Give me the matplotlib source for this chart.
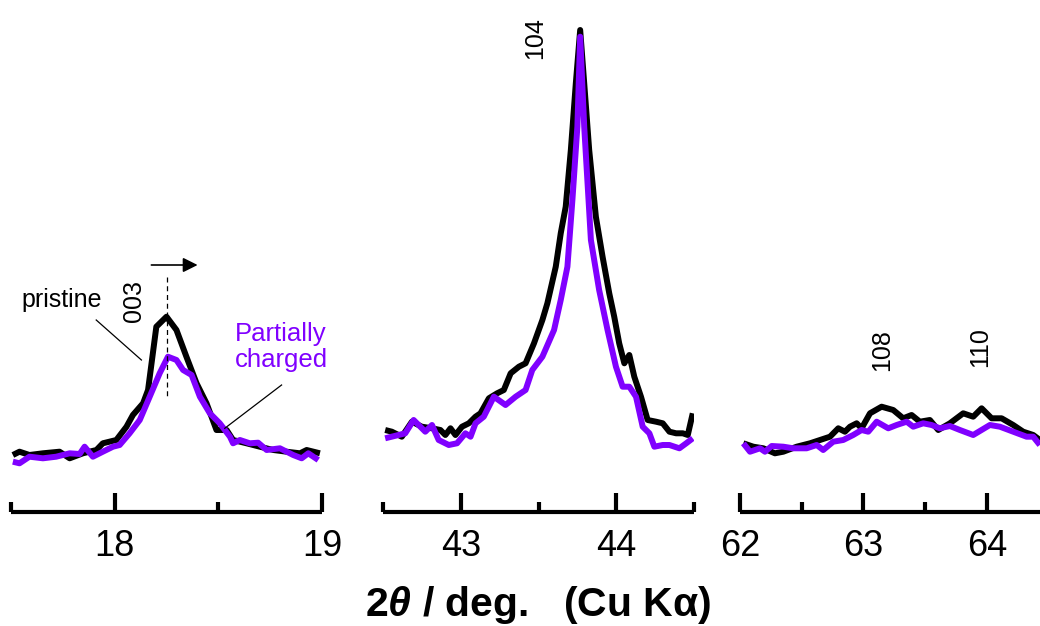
import matplotlib
matplotlib.use("Agg")
import matplotlib.pyplot as plt
from matplotlib.ticker import FixedLocator, NullFormatter

plt.rcParams['font.family'] = ['Liberation Sans', 'DejaVu Sans']
plt.rcParams['mathtext.fontset'] = 'custom'
plt.rcParams['mathtext.bf'] = 'Liberation Sans:bold'
plt.rcParams['mathtext.bfit'] = 'Liberation Sans:bold:italic'
plt.rcParams['mathtext.rm'] = 'Liberation Sans'

BLACK = '#000000'
PURPLE = '#8000ff'

# ---------------- data (2theta in degrees, intensity in a.u.) ----------------
# 003 region
x003_pristine = [17.509, 17.541, 17.589, 17.654, 17.734, 17.783, 17.847, 17.912, 17.943, 18.008,
                 18.057, 18.088, 18.137, 18.161, 18.201, 18.250, 18.298, 18.346, 18.395, 18.443,
                 18.491, 18.540, 18.571, 18.636, 18.700, 18.765, 18.829, 18.894, 18.926, 18.990]
y003_pristine = [57, 60.3, 57, 58.7, 60.3, 53.7, 58.7, 62, 68.7, 72,
                 85.3, 97, 108.7, 122, 185.3, 195.3, 182, 155.3, 128.7, 108.7,
                 82, 82, 72, 68.7, 65.3, 62, 60.3, 58.7, 62, 58.7]
x003_charged = [17.509, 17.541, 17.589, 17.654, 17.718, 17.783, 17.831, 17.855, 17.895, 17.943,
                17.992, 18.024, 18.072, 18.121, 18.169, 18.217, 18.257, 18.298, 18.330, 18.371,
                18.411, 18.459, 18.507, 18.556, 18.571, 18.604, 18.652, 18.692, 18.733, 18.797,
                18.861, 18.902, 18.934, 18.982]
y003_charged = [50.3, 48.7, 55.3, 53.7, 55.3, 58.7, 58, 65.3, 55.3, 60.3,
                65.3, 67, 78.7, 92, 115.3, 138.7, 155.3, 152, 142, 137,
                115.3, 98.7, 88.7, 75.3, 68.7, 72, 68.7, 69.3, 62, 63.7,
                57, 53.7, 58.7, 52]

# 104 region
x104_pristine = [42.514, 42.557, 42.621, 42.686, 42.750, 42.815, 42.869, 42.901, 42.934, 42.966,
                 43.008, 43.052, 43.095, 43.127, 43.181, 43.234, 43.277, 43.321, 43.374, 43.417,
                 43.471, 43.525, 43.557, 43.611, 43.643, 43.675, 43.708, 43.740, 43.768, 43.794,
                 43.826, 43.869, 43.912, 43.955, 43.987, 44.019, 44.052, 44.084, 44.116, 44.159,
                 44.202, 44.256, 44.299, 44.342, 44.385, 44.428, 44.460, 44.492]
y104_pristine = [82, 80.3, 75.3, 90.3, 85.3, 83.7, 82, 77, 83.7, 77,
                 85.3, 88.7, 95.3, 98.7, 113.7, 118.7, 122, 138.7, 145.3, 148.7,
                 168.7, 192, 208.7, 245.3, 278.7, 305.3, 362, 428.7, 482, 428.7,
                 362, 295.3, 255.3, 218.7, 195.3, 168.7, 148.7, 157, 135.3, 115.3,
                 92, 90.3, 88.7, 80.3, 78.7, 78.7, 77, 98.7]
x104_charged = [42.514, 42.600, 42.643, 42.697, 42.772, 42.815, 42.858, 42.923, 42.976, 43.030,
                43.063, 43.095, 43.148, 43.213, 43.288, 43.353, 43.417, 43.460, 43.525, 43.600,
                43.643, 43.686, 43.718, 43.750, 43.768, 43.794, 43.837, 43.890, 43.944, 43.998,
                44.041, 44.084, 44.127, 44.170, 44.213, 44.245, 44.299, 44.342, 44.406, 44.450,
                44.492]
y104_charged = [73.7, 77, 78.7, 92, 80.3, 87, 72, 67, 68.7, 78.7,
                75.3, 88.7, 95.3, 115.3, 107, 115.3, 122, 142, 155.3, 182,
                212, 245.3, 312, 385.3, 475.3, 385.3, 272, 222, 182, 145.3,
                125.3, 125.3, 115.3, 85.3, 78.7, 65.3, 67, 67, 63.7, 68.7,
                73.7]

# 108 / 110 region
x108_pristine = [62.027, 62.108, 62.189, 62.283, 62.351, 62.459, 62.567, 62.648, 62.729, 62.796,
                 62.850, 62.891, 62.945, 62.985, 63.053, 63.147, 63.241, 63.322, 63.390, 63.457,
                 63.538, 63.606, 63.700, 63.808, 63.889, 63.957, 64.038, 64.119, 64.213, 64.294,
                 64.375, 64.429]
y108_pristine = [68.7, 65.3, 63.7, 58.7, 60.3, 65.3, 68.7, 72, 75.3, 83.7,
                 80.3, 85.3, 88.7, 83.7, 98.7, 105.3, 102, 93.7, 97, 90.3,
                 92, 82, 88.7, 98.7, 95.3, 103.7, 93.7, 93.7, 87, 80.3,
                 77, 72]
x108_charged = [62.027, 62.081, 62.162, 62.202, 62.257, 62.351, 62.432, 62.540, 62.621, 62.674,
                62.755, 62.836, 62.917, 62.985, 63.039, 63.107, 63.201, 63.269, 63.350, 63.403,
                63.484, 63.552, 63.619, 63.700, 63.781, 63.889, 64.024, 64.105, 64.213, 64.321,
                64.375, 64.429]
y108_charged = [68.7, 60.3, 63.7, 60.3, 66, 65.3, 63.7, 63.7, 67, 62,
                70.3, 72, 77, 82, 80.3, 90.3, 83.7, 87, 90.3, 85.3,
                88.7, 87, 83.7, 86, 82, 77, 87, 85.3, 80.3, 75.3,
                75.3, 67]

xlims = [(17.5, 19.0), (42.5, 44.5), (62.0, 64.43)]
major_ticks = [[18, 19], [43, 44], [62, 63, 64]]
minor_ticks = [[17.5, 18.5], [42.5, 43.5, 44.5], [62.5, 63.5]]
peak_labels = ['003', '104', '108', '110']

# ---------------- figure ----------------
W, H = 1040, 626
fig = plt.figure(figsize=(W / 100, H / 100), dpi=100)

bottom = (H - 512) / H
lefts = [11 / W, 383 / W, 740 / W]
rights = [322 / W, 694 / W, 1.0]

panels = [(x003_pristine, y003_pristine, x003_charged, y003_charged),
          (x104_pristine, y104_pristine, x104_charged, y104_charged),
          (x108_pristine, y108_pristine, x108_charged, y108_charged)]

axes = []
for i, (xp, yp, xc, yc) in enumerate(panels):
    ax = fig.add_axes([lefts[i], bottom, rights[i] - lefts[i], 1 - bottom])
    ax.plot(xp, yp, color=BLACK, lw=4.3, solid_joinstyle='round', solid_capstyle='butt')
    ax.plot(xc, yc, color=PURPLE, lw=4.3, solid_joinstyle='round', solid_capstyle='butt')
    ax.set_xlim(*xlims[i])
    ax.set_ylim(0, 512)
    for s in ['top', 'left', 'right']:
        ax.spines[s].set_visible(False)
    ax.spines['bottom'].set_linewidth(3.0)
    ax.spines['bottom'].set_capstyle('butt')
    ax.set_yticks([])
    ax.xaxis.set_major_locator(FixedLocator(major_ticks[i]))
    ax.xaxis.set_minor_locator(FixedLocator(minor_ticks[i]))
    ax.xaxis.set_minor_formatter(NullFormatter())
    ax.tick_params(axis='x', which='major', direction='in', length=14, width=3,
                   labelsize=26, pad=12)
    ax.tick_params(axis='x', which='minor', direction='in', length=7, width=3)
    ax.patch.set_alpha(0)
    axes.append(ax)

ax1, ax2, ax3 = axes

# annotations panel 1
ax1.text(17.746, 212, 'pristine', fontsize=18, ha='center', va='center', color=BLACK)
ax1.plot([17.911, 18.129], [192, 152], color=BLACK, lw=0.9)
ax1.text(18.092, 211, peak_labels[0], fontsize=18, rotation=90, ha='center', va='center')
ax1.plot([18.25, 18.25], [235, 115], color=BLACK, lw=0.9, ls=(0, (4, 3)))
ax1.annotate('', xy=(18.40, 247), xytext=(18.177, 247),
             arrowprops=dict(arrowstyle='-|>', color=BLACK, lw=1.2,
                             mutation_scale=22, shrinkA=0, shrinkB=0))
ax1.text(18.802, 165, 'Partially\ncharged', fontsize=18.5, ha='center', va='center',
         color=PURPLE, linespacing=1.1)
ax1.plot([18.805, 18.531], [127, 83.7], color=BLACK, lw=0.9)

# panel 2
ax2.text(43.477, 474, peak_labels[1], fontsize=18, rotation=90, ha='center', va='center')

# panel 3
ax3.text(63.150, 162, peak_labels[2], fontsize=18, rotation=90, ha='center', va='center')
ax3.text(63.943, 165, peak_labels[3], fontsize=18, rotation=90, ha='center', va='center')

fig.text(538 / W, 1 - 605 / H, r'$\mathbf{2}\mathbfit{\theta}$ / deg.   (Cu K$\mathbf{\alpha}$)',
         fontsize=29.5, fontweight='bold', ha='center', va='center')

fig.savefig('out.png', dpi=100)
